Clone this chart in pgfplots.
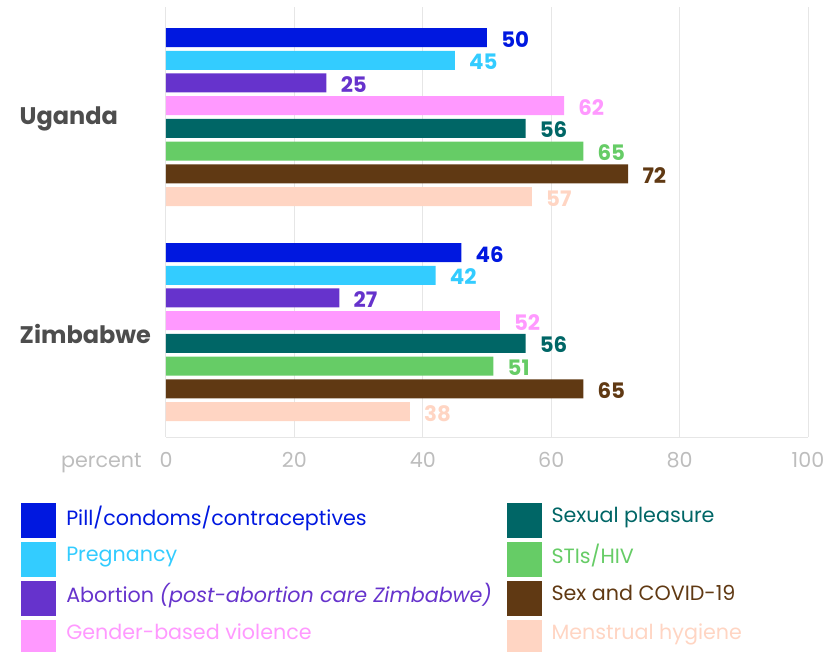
\documentclass[border=0pt]{standalone}
\usepackage{pgfplots}
\pgfplotsset{compat=1.18}
\usepackage{fontspec}
\setmainfont{Poppins}

\definecolor{cpill}{HTML}{0018E0}
\definecolor{cpreg}{HTML}{33CCFF}
\definecolor{cabor}{HTML}{6633CC}
\definecolor{cgbv}{HTML}{FF99FF}
\definecolor{cplea}{HTML}{006666}
\definecolor{csti}{HTML}{66CC66}
\definecolor{ccov}{HTML}{603913}
\definecolor{cmens}{HTML}{FFD5C3}
\definecolor{cgrid}{HTML}{E6E6E6}
\definecolor{ctick}{HTML}{BDBDBD}
\definecolor{cgroup}{HTML}{4D4D4D}

% Uganda = 0, Zimbabwe = 1
\pgfplotstableread{
y pill preg abor gbv plea sti cov mens
0 50 45 25 62 56 65 72 57
1 46 42 27 52 56 51 65 38
}\topics

\begin{document}
\begin{tikzpicture}
  \useasboundingbox (-124.5pt,-160.5pt) rectangle (502.5pt,327.75pt);
  \begin{axis}[
    at={(0,0)}, anchor=south west,
    width=481.5pt, height=322.5pt, scale only axis,
    clip=false,
    xbar, bar width=14.25pt,
    xmin=0, xmax=100, ymin=-0.512, ymax=1.488, y dir=reverse,
    xtick={0,20,...,100}, ytick={0,1}, yticklabels={Uganda,Zimbabwe},
    axis lines*=left,
    axis line style={-, draw=cgrid, line width=0.75pt},
    major tick length=0pt,
    xmajorgrids, grid style={cgrid, line width=0.75pt},
    /pgf/number format/assume math mode=true,
    xticklabel style={text=ctick, font=\fontsize{15.5}{15.5}\selectfont,
      anchor=base, inner sep=0pt, yshift=-22.5pt},
    yticklabel style={text=cgroup, font=\bfseries\fontsize{18}{18}\selectfont,
      anchor=east, align=left, text width=100pt, inner sep=0pt, xshift=-9.5pt, yshift=-1.5pt},
    nodes near coords,
    every node near coord/.append style={anchor=west, inner sep=0pt, xshift=10.5pt, yshift=-1.2pt,
      font=\bfseries\fontsize{16}{16}\selectfont},
    legend image code/.code={\fill[#1, draw=none] (0pt,-16.5pt) rectangle (26.25pt,9.75pt);},
    legend columns=2,
    legend cell align=left,
    legend style={at={(axis description cs:0,0)}, anchor=north west,
      xshift=-108.75pt, yshift=-49.5pt, draw=none, fill=none, inner sep=0pt,
      row sep=2.9pt, column sep=7.5pt,
      /tikz/every even column/.append style={column sep=11pt},
      nodes={inner sep=0pt},
      font=\fontsize{15.5}{19}\selectfont},
  ]
    \addplot[forget plot, bar shift=59.675pt, fill=cpill, draw=none, every node near coord/.append style={text=cpill}] table[x=pill, y=y] {\topics};
    \addplot[forget plot, bar shift=42.625pt, fill=cpreg, draw=none, every node near coord/.append style={text=cpreg}] table[x=preg, y=y] {\topics};
    \addplot[forget plot, bar shift=25.575pt, fill=cabor, draw=none, every node near coord/.append style={text=cabor}] table[x=abor, y=y] {\topics};
    \addplot[forget plot, bar shift=8.525pt, fill=cgbv, draw=none, every node near coord/.append style={text=cgbv}] table[x=gbv, y=y] {\topics};
    \addplot[forget plot, bar shift=-8.525pt, fill=cplea, draw=none, every node near coord/.append style={text=cplea}] table[x=plea, y=y] {\topics};
    \addplot[forget plot, bar shift=-25.575pt, fill=csti, draw=none, every node near coord/.append style={text=csti}] table[x=sti, y=y] {\topics};
    \addplot[forget plot, bar shift=-42.625pt, fill=ccov, draw=none, every node near coord/.append style={text=ccov}] table[x=cov, y=y] {\topics};
    \addplot[forget plot, bar shift=-59.675pt, fill=cmens, draw=none, every node near coord/.append style={text=cmens}] table[x=mens, y=y] {\topics};

    \addlegendimage{fill=cpill}
    \addlegendentry{\textcolor{cpill}{Pill/condoms/contraceptives}}
    \addlegendimage{fill=cplea}
    \addlegendentry{\textcolor{cplea}{Sexual pleasure}}
    \addlegendimage{fill=cpreg}
    \addlegendentry{\textcolor{cpreg}{Pregnancy}}
    \addlegendimage{fill=csti}
    \addlegendentry{\textcolor{csti}{STIs/HIV}}
    \addlegendimage{fill=cabor}
    \addlegendentry{\textcolor{cabor}{Abortion \textit{(post-abortion care Zimbabwe)}}}
    \addlegendimage{fill=ccov}
    \addlegendentry{\textcolor{ccov}{Sex and COVID-19}}
    \addlegendimage{fill=cgbv}
    \addlegendentry{\textcolor{cgbv}{Gender-based violence}}
    \addlegendimage{fill=cmens}
    \addlegendentry{\textcolor{cmens}{Menstrual hygiene}}

    \node[anchor=base east, inner sep=0pt, text=ctick, font=\fontsize{15.5}{15.5}\selectfont]
      at (axis description cs:0,0) [xshift=-18pt, yshift=-22.5pt] {percent};
  \end{axis}
\end{tikzpicture}
\end{document}
